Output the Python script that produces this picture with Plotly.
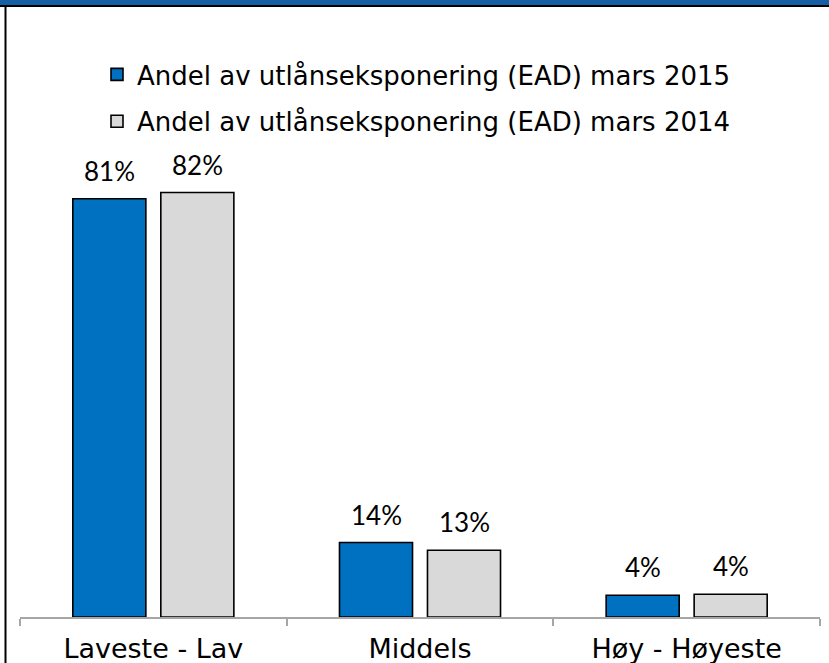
import plotly.graph_objects as go

categories = ["Laveste - Lav", "Middels", "Høy - Høyeste"]
series_2015_name = "Andel av utlånseksponering (EAD) mars 2015"
series_2014_name = "Andel av utlånseksponering (EAD) mars 2014"
values_2015 = [80.9, 14.4, 4.2]
values_2014 = [82.1, 12.9, 4.4]

W, H = 829, 663
ML, MR, MT, MB = 20, 9, 100, 46
PW, PH = W - ML - MR, H - MT - MB


def px_x(px):
    return (px - ML) / PW


def px_y(py):
    return (H - MB - py) / PH


fig = go.Figure()
fig.add_trace(go.Bar(
    x=categories, y=values_2015, name=series_2015_name, legendgroup="a",
    marker=dict(color="#0070C0", line=dict(color="#000000", width=1.6)),
))
fig.add_trace(go.Bar(
    x=categories, y=values_2014, name=series_2014_name, legendgroup="b",
    marker=dict(color="#D9D9D9", line=dict(color="#000000", width=1.6)),
))

annotations = []
for vals, shift in ((values_2015, -44), (values_2014, 44)):
    for c, v in zip(categories, vals):
        annotations.append(dict(
            x=c, y=v, xref="x", yref="y", text=f"{round(v)}%", showarrow=False,
            xanchor="center", yanchor="bottom", xshift=shift, yshift=10,
            font=dict(family="Lato, Open Sans, sans-serif", size=26, color="#000000"),
        ))

shapes = [
    dict(type="rect", xref="paper", yref="paper", x0=px_x(-5), x1=px_x(W + 5),
         y0=px_y(5), y1=px_y(-2), fillcolor="#165FA5", line=dict(width=0), layer="above"),
    dict(type="rect", xref="paper", yref="paper", x0=px_x(-5), x1=px_x(W + 5),
         y0=px_y(7), y1=px_y(5), fillcolor="#000000", line=dict(width=0), layer="above"),
    dict(type="rect", xref="paper", yref="paper", x0=px_x(4.5), x1=px_x(6.5),
         y0=px_y(H + 5), y1=px_y(5), fillcolor="#000000", line=dict(width=0), layer="above"),
]

fig.update_layout(
    width=W, height=H,
    margin=dict(l=ML, r=MR, t=MT, b=MB, autoexpand=False),
    paper_bgcolor="#FFFFFF", plot_bgcolor="#FFFFFF",
    barmode="group", bargap=0.34, bargroupgap=0.17,
    showlegend=True,
    legend=dict(
        x=px_x(97), xanchor="left", y=px_y(51), yanchor="top",
        font=dict(family="DejaVu Sans, Verdana, sans-serif", size=26, color="#000000"),
        bgcolor="rgba(0,0,0,0)", tracegroupgap=10, traceorder="grouped",
        borderwidth=0,
    ),
    xaxis=dict(
        showline=True, linecolor="#A6A6A6", linewidth=1.5,
        ticks="outside", tickson="boundaries", ticklen=7, tickcolor="#A6A6A6", tickwidth=1.5,
        ticklabelstandoff=7, automargin=False,
        tickfont=dict(family="DejaVu Sans, Verdana, sans-serif", size=27, color="#000000"),
        showgrid=False, zeroline=False, fixedrange=True,
    ),
    yaxis=dict(range=[0, 100], visible=False, showgrid=False, zeroline=False,
               fixedrange=True, automargin=False),
    annotations=annotations,
    shapes=shapes,
)

fig.write_html(
    "out.html",
    config={"displayModeBar": False},
    post_script="document.body.style.margin='0';document.body.style.overflow='hidden';",
)
